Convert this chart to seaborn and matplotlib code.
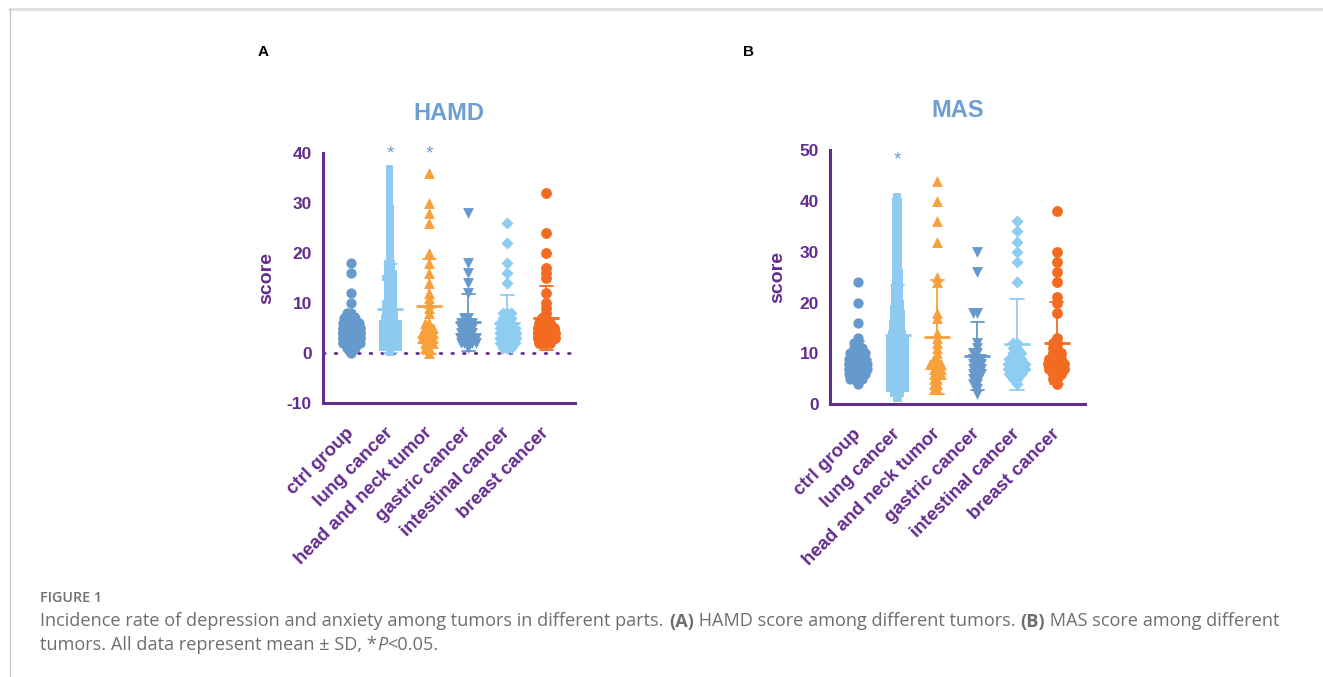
import warnings
warnings.filterwarnings("ignore")
import numpy as np
import pandas as pd
import matplotlib
matplotlib.use("Agg")
import matplotlib.pyplot as plt
from matplotlib.lines import Line2D
import seaborn as sns

# ---------------- data ----------------
categories = ["ctrl group", "lung cancer", "head and neck tumor",
              "gastric cancer", "intestinal cancer", "breast cancer"]

# HAMD scores (value / number of patients at that value)
hamd_ctrl_values = [0, 1, 2, 3, 4, 5, 6, 7, 8, 10, 12, 16, 18]
hamd_ctrl_counts = [1, 3, 8, 12, 12, 9, 6, 4, 2, 1, 1, 1, 1]
hamd_lung_values = list(range(0, 38))
hamd_lung_counts = [3, 35, 40, 40, 35, 30, 20, 10, 9, 8, 8, 7, 7, 7, 7, 8, 7, 6, 6,
                    3, 3, 3, 3, 3, 3, 3, 3, 3, 3, 3, 2, 2, 2, 2, 2, 2, 2, 2]
hamd_hn_values = [0, 1, 2, 3, 4, 5, 6, 8, 9, 10, 11, 12, 14, 16, 18, 20, 26, 28, 30, 36]
hamd_hn_counts = [1, 2, 3, 4, 4, 3, 2, 1, 1, 1, 1, 1, 1, 1, 1, 1, 1, 1, 1, 1]
hamd_gas_values = [1, 2, 3, 4, 5, 6, 7, 12, 14, 16, 18, 28]
hamd_gas_counts = [1, 5, 6, 4, 4, 4, 2, 1, 1, 1, 1, 1]
hamd_int_values = [1, 2, 3, 4, 5, 6, 7, 8, 14, 16, 18, 22, 26]
hamd_int_counts = [3, 5, 6, 6, 5, 4, 3, 3, 1, 1, 1, 1, 1]
hamd_br_values = [2, 3, 4, 5, 6, 7, 8, 9, 10, 12, 15, 16, 17, 20, 24, 32]
hamd_br_counts = [4, 8, 8, 6, 4, 2, 1, 1, 1, 1, 1, 1, 1, 1, 1, 1]

# MAS scores
mas_ctrl_values = [4, 5, 6, 7, 8, 9, 10, 11, 12, 13, 16, 20, 24]
mas_ctrl_counts = [1, 4, 6, 8, 8, 6, 5, 3, 2, 1, 1, 1, 1]
mas_lung_values = list(range(1, 42))
mas_lung_counts = [3, 8, 15, 22, 28, 30, 32, 30, 28, 25, 20, 18, 15, 12, 10, 10, 9, 9, 8, 7,
                   6, 6, 6, 5, 5, 5, 4, 4, 4, 4, 4, 4, 4, 4, 4, 4, 4, 4, 4, 4, 2]
mas_hn_values = [3, 4, 5, 6, 7, 8, 9, 10, 11, 12, 13, 14, 17, 18, 24, 25, 32, 36, 40, 44]
mas_hn_counts = [2, 2, 2, 3, 3, 4, 2, 1, 1, 1, 1, 1, 1, 1, 1, 1, 1, 1, 1, 1]
mas_gas_values = [2, 3, 4, 5, 6, 7, 8, 9, 10, 11, 12, 18, 26, 30]
mas_gas_counts = [1, 1, 2, 2, 3, 3, 3, 3, 2, 1, 1, 2, 1, 1]
mas_int_values = [4, 5, 6, 7, 8, 9, 10, 11, 12, 24, 28, 30, 32, 34, 36]
mas_int_counts = [1, 2, 4, 6, 6, 4, 3, 2, 2, 1, 1, 1, 1, 1, 1]
mas_br_values = [4, 5, 6, 7, 8, 9, 10, 11, 12, 13, 18, 20, 21, 24, 26, 28, 30, 38]
mas_br_counts = [1, 2, 3, 5, 6, 4, 3, 2, 2, 1, 1, 1, 1, 1, 1, 1, 1, 1]

hamd_ticks = [-10, 0, 10, 20, 30, 40]
mas_ticks = [0, 10, 20, 30, 40, 50]

# ---------------- style ----------------
sns.set_theme(style="white")
plt.rcParams["font.family"] = ["Liberation Sans", "DejaVu Sans"]

PURPLE = "#632c8f"
TITLE_BLUE = "#6b9fd3"
colors = ["#6699cc", "#8ecbf0", "#f8a03c", "#6699cc", "#8ecdf2", "#f36a21"]
markers = ["o", "s", "^", "v", "D", "o"]
vis_sizes = [7.4, 4.6, 7.8, 7.8, 6.2, 7.8]     # drawn marker sizes (pt)
layout_sizes = [2.6, 0.8, 2.6, 2.6, 2.6, 2.6]  # sizes used for the swarm layout (allow overlap)
SWARM_FRAC = 0.44
SPACING = 0.8 / SWARM_FRAC

W, H = 1323, 677
fig = plt.figure(figsize=(W / 100, H / 100), dpi=100)
fig.patch.set_facecolor("white")


def build_df(vals_counts):
    rows = []
    for i, (cat, (vals, cnts)) in enumerate(zip(categories, vals_counts)):
        for v, c in zip(vals, cnts):
            rows += [(cat, i * SPACING, v)] * c
    return pd.DataFrame(rows, columns=["group", "pos", "score"])


hamd_df = build_df([(hamd_ctrl_values, hamd_ctrl_counts), (hamd_lung_values, hamd_lung_counts),
                    (hamd_hn_values, hamd_hn_counts), (hamd_gas_values, hamd_gas_counts),
                    (hamd_int_values, hamd_int_counts), (hamd_br_values, hamd_br_counts)])
mas_df = build_df([(mas_ctrl_values, mas_ctrl_counts), (mas_lung_values, mas_lung_counts),
                   (mas_hn_values, mas_hn_counts), (mas_gas_values, mas_gas_counts),
                   (mas_int_values, mas_int_counts), (mas_br_values, mas_br_counts)])

swarm_colls = []


def panel(rect, df, title, ylim, yticks, xlim, stars, star_y, zero_line, ylabel_x):
    ax = fig.add_axes(rect)
    ax.set_facecolor("white")
    palette = dict(zip(categories, colors))
    sns.pointplot(data=df, x="pos", y="score", hue="group", native_scale=True,
                  hue_order=categories, palette=palette, errorbar="sd", capsize=0.33,
                  marker="_", markersize=19, markeredgewidth=2.0, linestyle="none",
                  err_kws={"linewidth": 1.3}, legend=False, ax=ax, zorder=3)
    for i, cat in enumerate(categories):
        sub = df[df["group"] == cat]
        n0 = len(ax.collections)
        sns.swarmplot(data=sub, x="pos", y="score", native_scale=True, color=colors[i],
                      marker=markers[i], size=layout_sizes[i], linewidth=0,
                      ax=ax, zorder=2)
        for c in ax.collections[n0:]:
            swarm_colls.append((c, vis_sizes[i]))
    if zero_line:
        ax.axhline(0, color=PURPLE, lw=2.0, ls=(0, (0.6, 3.6)), dash_capstyle="round", zorder=1)
    ax.set_xlim(xlim[0] * SPACING, xlim[1] * SPACING)
    ax.set_ylim(*ylim)
    ax.set_yticks(yticks)
    ax.set_xticks([i * SPACING for i in range(len(categories))])
    ax.set_xticklabels(categories, rotation=45, ha="right", va="center",
                       rotation_mode="anchor", fontsize=13.4, fontweight="bold", color=PURPLE)
    ax.set_yticklabels([str(t) for t in yticks], fontsize=12.5, fontweight="bold", color=PURPLE)
    for s in ["top", "right"]:
        ax.spines[s].set_visible(False)
    for s in ["left", "bottom"]:
        ax.spines[s].set_color(PURPLE)
        ax.spines[s].set_linewidth(2.2)
    ax.tick_params(axis="both", colors=PURPLE, width=2.2, length=7, pad=1, direction="out")
    ax.tick_params(axis="x", pad=12.5)
    ax.set_xlabel("")
    ax.set_ylabel("score", fontsize=14, fontweight="bold", color=PURPLE)
    ax.yaxis.set_label_coords(ylabel_x, 0.5)
    ax.set_title(title, fontsize=17, fontweight="bold", color=TITLE_BLUE, pad=24)
    for i in stars:
        ax.text(i * SPACING, star_y, "*", ha="center", va="center", fontsize=14,
                color=TITLE_BLUE, clip_on=False)
    ax.grid(False)
    return ax


axA = panel([323 / W, 1 - 403.3 / H, 252 / W, 250 / H], hamd_df, "HAMD", (-10, 40),
            hamd_ticks, (-0.72, 5.74), [1, 2], 39.8, True, -0.19)
axB = panel([830 / W, 1 - 404.3 / H, 255 / W, 254.3 / H], mas_df, "MAS", (0, 50),
            mas_ticks, (-0.70, 5.71), [1], 48.0, False, -0.17)

fig.text(263 / W, 1 - 52 / H, "A", fontsize=11, fontweight="bold", color="black",
         ha="center", va="center")
fig.text(748 / W, 1 - 52 / H, "B", fontsize=11, fontweight="bold", color="black",
         ha="center", va="center")

# frame lines
fig.add_artist(Line2D([9 / W, 1], [1 - 9 / H, 1 - 9 / H], color="#dedede", lw=2.0))
fig.add_artist(Line2D([9.5 / W, 9.5 / W], [0, 1 - 9 / H], color="#c8c8c8", lw=1.0))

# caption
CAP = "#6e6e6e"
capfont = ["Open Sans", "DejaVu Sans"]
fig.text(40.5 / W, 1 - 598 / H, "FIGURE 1", fontsize=10.3, fontweight="semibold",
         color=CAP, family=capfont, ha="left", va="center")

renderer = fig.canvas.get_renderer()


def rich_line(x_px, y_px, segments, size=13.05):
    x = x_px
    for txt, kw in segments:
        t = fig.text(x / W, 1 - y_px / H, txt, fontsize=size, color=CAP, family=capfont,
                     ha="left", va="center", **kw)
        x += t.get_window_extent(renderer).width


rich_line(40.5, 621.5, [
    ("Incidence rate of depression and anxiety among tumors in different parts. ", {}),
    ("(A)", {"fontweight": "bold"}),
    (" HAMD score among different tumors. ", {}),
    ("(B)", {"fontweight": "bold"}),
    (" MAS score among different", {}),
])
rich_line(40.5, 645, [
    ("tumors. All data represent mean \u00b1 SD, *", {}),
    ("P", {"fontstyle": "italic"}),
    ("<0.05.", {}),
])

# compute swarm layout with the small layout markers, then freeze positions and
# draw with the larger (overlapping) markers as in the original figure
fig.canvas.draw()
for coll, vs in swarm_colls:
    if "draw" in coll.__dict__:
        del coll.__dict__["draw"]
    coll.set_sizes([vs ** 2])

fig.savefig("out.png", dpi=100, facecolor="white")
